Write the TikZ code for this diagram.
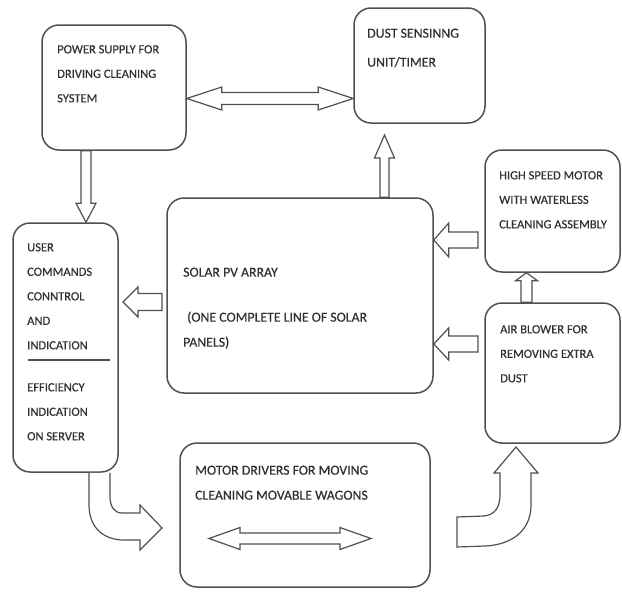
\documentclass[tikz,border=0pt]{standalone}
\usepackage{fontspec}
\setmainfont{Carlito}[FakeBold=0.4]
\usetikzlibrary{calc}

\definecolor{edge}{HTML}{505050}
\definecolor{ink}{HTML}{303030}

\newcommand{\blockarrow}[5]{%
  \coordinate (hb) at ($(#2)!#5pt!(#1)$);
  \draw[blk] ($(#1)!#3pt!90:(#2)$) -- ($(hb)!#3pt!90:(#2)$)
    -- ($(hb)!#4pt!90:(#2)$) -- (#2) -- ($(hb)!#4pt!-90:(#2)$)
    -- ($(hb)!#3pt!-90:(#2)$) -- ($(#1)!#3pt!-90:(#2)$) -- cycle;}

\newcommand{\dblarrow}[5]{%
  \coordinate (ha) at ($(#1)!#5pt!(#2)$);
  \coordinate (hb) at ($(#2)!#5pt!(#1)$);
  \draw[blk] (#1) -- ($(ha)!#4pt!90:(#2)$) -- ($(ha)!#3pt!90:(#2)$)
    -- ($(hb)!#3pt!90:(#2)$) -- ($(hb)!#4pt!90:(#2)$) -- (#2)
    -- ($(hb)!#4pt!-90:(#2)$) -- ($(hb)!#3pt!-90:(#2)$)
    -- ($(ha)!#3pt!-90:(#2)$) -- ($(ha)!#4pt!-90:(#2)$) -- cycle;}

\begin{document}
\begin{tikzpicture}[x=1pt, y=-1pt,
    box/.style = {draw=edge, line width=1.5pt, rounded corners=17pt, inner sep=0pt},
    blk/.style = {draw=edge, line width=1.2pt, fill=white, line join=miter},
    txt/.style = {anchor=north west, align=left, inner sep=0pt, text=ink,
                  font=\fontsize{12.5}{24.5}\selectfont},
    big/.style = {txt, font=\fontsize{13.8}{25}\selectfont}]
\useasboundingbox (0,0) rectangle (622,592);

\foreach \n/\cx/\cy/\w/\h in {ps/114/87.5/144/125, ds/419.5/65.5/131/115,
    hs/552.5/211/135/122, ab/552.5/373/135/140, pv/300/295.5/266/195,
    uc/65.5/347.5/105/249, md/305/515/250/144} {
  \node[box, minimum width=\w, minimum height=\h] (\n) at (\cx,\cy) {};
}

\node[txt] (pst) at (57,45) {POWER SUPPLY FOR\\DRIVING CLEANING\\SYSTEM};
\node[big] (dst) at (367,28.5) {DUST SENSINNG\\[4pt]UNIT/TIMER};
\node[txt] (hst) at (499,171) {HIGH SPEED MOTOR\\WITH WATERLESS\\CLEANING ASSEMBLY};
\node[txt] (abt) at (500,325) {AIR BLOWER FOR\\REMOVING EXTRA\\DUST};
\node[big] (pvt) at (183,267.5) {SOLAR PV ARRAY\\[20pt]\hspace*{4pt}(ONE COMPLETE LINE OF SOLAR\\PANELS)};
\node[txt] (uct) at (27,243) {USER\\COMMANDS\\CONNTROL\\AND\\INDICATION};
\node[txt] (ucb) at (27,383) {EFFICIENCY\\INDICATION\\ON SERVER};
\node[big] (mdt) at (195,465.5) {MOTOR DRIVERS FOR MOVING\\CLEANING MOVABLE WAGONS};

\draw[edge, line width=2pt] (28,360) -- (110,360);

\dblarrow{ps.east |- 0,98.5}{ds.west |- 0,98.5}{6}{11.5}{35}
\blockarrow{ps.south -| 86,0}{uc.north -| 86,0}{5}{10}{19}
\blockarrow{pv.north -| 384.5,0}{384.5,135}{4.5}{10}{23}
\blockarrow{478,240}{pv.east |- 0,240}{8}{17}{15}
\blockarrow{478,344}{pv.east |- 0,344}{8}{16}{15}
\blockarrow{162,302}{123,302}{8.5}{15}{15}
\blockarrow{ab.north -| 526.5,0}{hs.south -| 526.5,0}{5.5}{11}{8}
\dblarrow{209,538.5}{371,538.5}{5.5}{11}{31}

\draw[blk] (uc.south -| 89,0) -- (89,505) .. controls (89,528) and (104,540) .. (124,540)
  -- (140,540) -- (140,550) -- (162,528) -- (140,505) -- (140,513) -- (122,513)
  .. controls (114,513) and (110,506) .. (110,497) -- (uc.south -| 110,0);
\draw[blk] (457,517) -- (484,516) .. controls (495,515) and (500,507) .. (500,495)
  -- (500,473) -- (494,473) -- (516,447) -- (538,473) -- (531,473) -- (531,505)
  .. controls (531,532) and (510,545) .. (485,546) -- (457,547) -- cycle;
\end{tikzpicture}
\end{document}
